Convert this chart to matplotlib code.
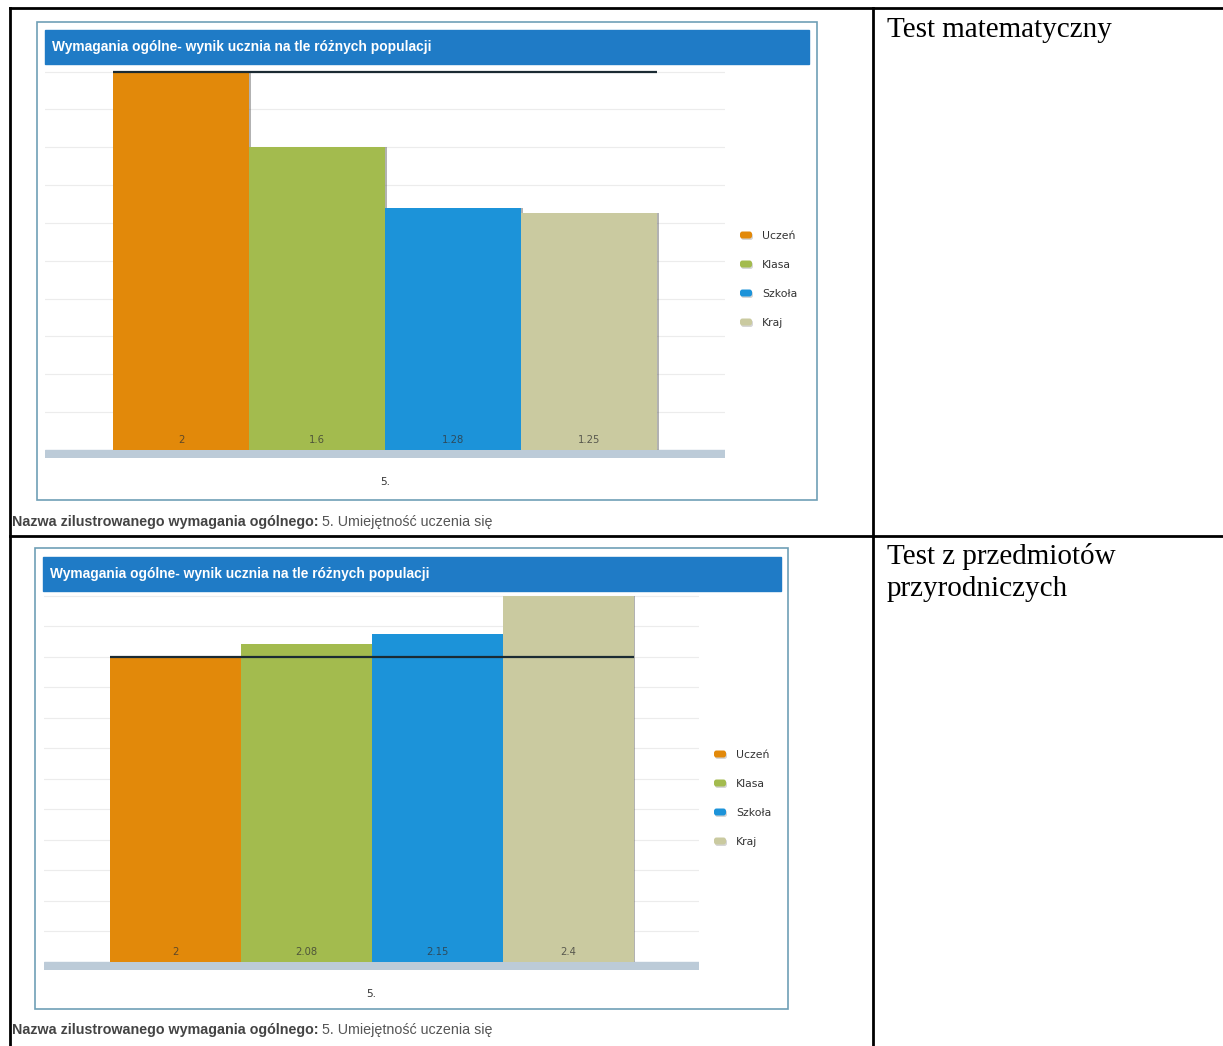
import numpy as np
import matplotlib.pyplot as plt
from matplotlib.patches import Rectangle, FancyBboxPatch

# Dane
categories = ['Uczeń', 'Klasa', 'Szkoła', 'Kraj']
math_values = [2, 1.6, 1.28, 1.25]
science_values = [2, 2.08, 2.15, 2.4]
group_label = '5.'
test_names = ['Test matematyczny', 'Test z przedmiotów\nprzyrodniczych']
chart_title = 'Wymagania ogólne- wynik ucznia na tle różnych populacji'
caption_bold = 'Nazwa zilustrowanego wymagania ogólnego:'
caption_rest = ' 5. Umiejętność uczenia się'

colors = ['#E2890A', '#A3BB4E', '#1C93D9', '#CACAA0']

W, H = 1223, 1046
fig = plt.figure(figsize=(W / 100, H / 100), dpi=100)
fig.patch.set_facecolor('white')

# tło w pikselach (y w dół)
bg = fig.add_axes([0, 0, 1, 1])
bg.set_xlim(0, W)
bg.set_ylim(H, 0)
bg.axis('off')

SANS = ['Liberation Sans', 'DejaVu Sans']


def box(x0, y0, x1, y1):
    return [x0 / W, 1 - y1 / H, (x1 - x0) / W, (y1 - y0) / H]


def draw_chart(values, panel, title_bar, plot, base_h, ytop, legend_xy, caption_y):
    px0, py0, px1, py1 = panel
    bg.add_patch(Rectangle((px0, py0), px1 - px0, py1 - py0, fill=False,
                           edgecolor='#6f9fb6', lw=1.2))
    tx0, ty0, tx1, ty1 = title_bar
    bg.add_patch(Rectangle((tx0, ty0), tx1 - tx0, ty1 - ty0, color='#1f7bc6'))
    bg.text(tx0 + 7, (ty0 + ty1) / 2, chart_title, color='white', fontsize=9.9,
            fontweight='bold', family=SANS, va='center')

    x0, y0, x1, y1 = plot
    ax = fig.add_axes(box(x0, y0, x1, y1 + base_h))
    x = np.arange(len(values))
    scale = (y1 - y0) / ytop
    ybot = -base_h / scale
    ax.set_xlim(-1.0, 4.0)
    ax.set_ylim(ybot, ytop)
    for g in np.arange(0.2, ytop, 0.2):
        ax.axhline(g, color='#ececec', lw=0.8, zorder=0)
    ax.axhspan(ybot, 0, color='#bccbd8', zorder=1)
    # cień słupków
    ax.bar(x + 0.012, values, width=1.0, color='#555555', alpha=0.45, zorder=2)
    ax.bar(x, values, width=1.0, color=colors, zorder=3)
    ax.hlines(values[0], -0.5, 3.5, color='#1b2b33', lw=1.6, zorder=4)
    for xi, v in zip(x, values):
        ax.annotate(f'{v:g}', (xi, 0), xytext=(0, 7), textcoords='offset points',
                    ha='center', va='center', fontsize=7.2, color='#333333', alpha=0.75,
                    zorder=5)
    ax.annotate(group_label, (1.5, ybot), xytext=(0, -17), textcoords='offset points',
                ha='center', va='center', fontsize=7.5, color='#333333')
    ax.axis('off')

    lx, ly = legend_xy
    for i, (c, col) in enumerate(zip(categories, colors)):
        yy = ly + i * 29
        bg.add_patch(FancyBboxPatch((lx + 1, yy - 3), 12, 7, boxstyle='round,pad=0,rounding_size=2.5',
                                    color='#999999', alpha=0.4, lw=0))
        bg.add_patch(FancyBboxPatch((lx, yy - 4.5), 12, 7, boxstyle='round,pad=0,rounding_size=2.5',
                                    color=col, lw=0))
        bg.text(lx + 22, yy, c, fontsize=7.8, color='#333333', va='center')

    t = bg.text(12, caption_y, caption_bold, fontsize=10.3, fontweight='bold', color='#444444',
                family=SANS, va='center')
    fig.canvas.draw()
    bb = t.get_window_extent()
    bg.text(bb.x1, caption_y, caption_rest, fontsize=10.3, color='#555555',
            family=SANS, va='center')


draw_chart(math_values, (37, 22, 817, 500), (45, 30, 809, 64), (45, 64, 725, 450), 8,
           2.04, (740, 236), 522)
draw_chart(science_values, (35, 548, 788, 1009), (43, 557, 781, 591), (44, 591, 699, 962), 8,
           2.43, (714, 755), 1030)

# tabela
lw = 2
bg.plot([10, W], [8, 8], color='black', lw=lw)
bg.plot([10, 10], [8, H], color='black', lw=lw)
bg.plot([873, 873], [8, H], color='black', lw=lw)
bg.plot([10, W], [536, 536], color='black', lw=lw)

SERIF = ['Liberation Serif', 'DejaVu Serif']
bg.text(887, 17, test_names[0], fontsize=21, family=SERIF, va='top', color='black')
bg.text(887, 543, test_names[1], fontsize=21, family=SERIF, va='top', color='black',
        linespacing=1.32)

fig.savefig('out.png', dpi=100)
